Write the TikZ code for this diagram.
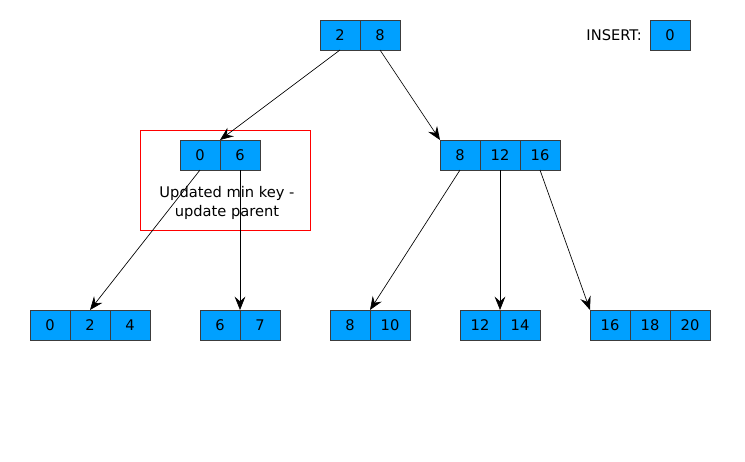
\documentclass[tikz,border=0pt]{standalone}
\usepackage{fontspec}
\setmainfont{DejaVu Sans}
\usetikzlibrary{arrows.meta}
\definecolor{cellblue}{RGB}{0,160,255}
\definecolor{cellline}{RGB}{60,60,60}
\tikzset{
  cell/.style={draw=cellline, fill=cellblue, minimum width=30pt, minimum height=22.5pt, inner sep=0pt, outer sep=0pt, line width=0.75pt, font=\fontsize{11}{12}\selectfont},
  link/.style={-{Stealth[length=10pt,width=8pt,inset=3.5pt]}, line width=0.5pt, black},
  lbl/.style={font=\fontsize{11}{14}\selectfont, inner sep=0pt, align=center}
}
\begin{document}
\begin{tikzpicture}[x=0.75pt,y=-0.75pt]
\useasboundingbox (0,0) rectangle (745,461);
% highlight box
\node[draw=red, line width=0.6pt, minimum width=127.5pt, minimum height=75pt, inner sep=0pt] (hl) at (225,180) {};
% root
\node[cell] (r2) at (340,35) {2};
\node[cell] (r8) at (380,35) {8};
% insert
\node[cell] (ins) at (670,35) {0};
\node[lbl, anchor=east] (inslbl) at (642,35) {INSERT:};
% level 1
\node[cell] (a0) at (200,155) {0};
\node[cell] (a6) at (240,155) {6};
\node[lbl] (note) at (227,203) {Updated min key -\\update parent};
\node[cell] (b8) at (460,155) {8};
\node[cell] (b12) at (500,155) {12};
\node[cell] (b16) at (540,155) {16};
% leaves
\node[cell] (c0) at (50,325) {0};
\node[cell] (c2) at (90,325) {2};
\node[cell] (c4) at (130,325) {4};
\node[cell] (d6) at (220,325) {6};
\node[cell] (d7) at (260,325) {7};
\node[cell] (e8) at (350,325) {8};
\node[cell] (e10) at (390,325) {10};
\node[cell] (f12) at (480,325) {12};
\node[cell] (f14) at (520,325) {14};
\node[cell] (g16) at (610,325) {16};
\node[cell] (g18) at (650,325) {18};
\node[cell] (g20) at (690,325) {20};
% links
\draw[link] (r2.south) -- (a0.north east);
\draw[link] (r8.south) -- (b8.north west);
\draw[link] (a0.south) -- (c2.north);
\draw[link] (a6.south) -- (d6.north east);
\draw[link] (b8.south) -- (e8.north east);
\draw[link] (b12.south) -- (f12.north east);
\draw[link] (b16.south) -- (g16.north west);
\end{tikzpicture}
\end{document}
